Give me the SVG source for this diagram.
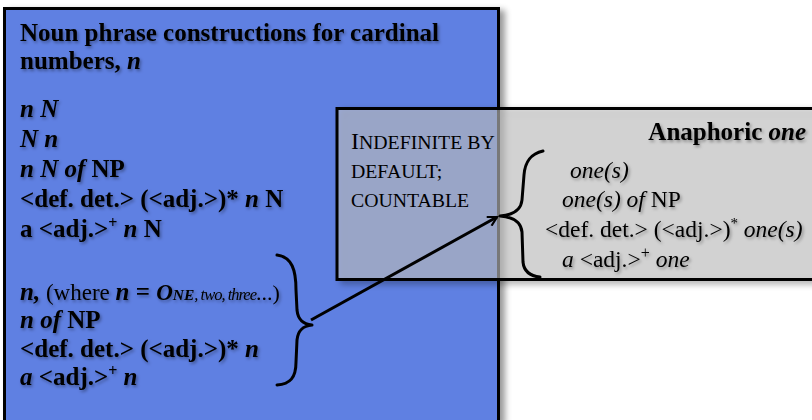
<svg xmlns="http://www.w3.org/2000/svg" width="812" height="420" viewBox="0 0 812 420">
<defs>
<filter id="bs" x="-5%" y="-5%" width="115%" height="115%"><feDropShadow dx="5" dy="3" stdDeviation="3" flood-color="#000" flood-opacity="0.4"/></filter>
<filter id="ts" x="-5%" y="-5%" width="110%" height="120%"><feDropShadow dx="1.5" dy="2" stdDeviation="1.5" flood-color="#000" flood-opacity="0.35"/></filter>
<marker id="ah" viewBox="0 0 12 12" refX="10" refY="6" markerWidth="12" markerHeight="12" markerUnits="userSpaceOnUse" orient="auto"><path d="M1,1 L10,6 L1,11" fill="none" stroke="#000" stroke-width="2.2"/></marker>
<style>
text{font-family:"Liberation Serif","Times New Roman",serif;fill:#000}
.l{font-size:25px;font-weight:bold}
.bi{font-style:italic;font-weight:bold}
.r{font-size:23.5px}
.i{font-style:italic}
.n{font-weight:normal}
.sc{font-size:19.8px}
.brace{fill:none;stroke:#000;stroke-width:3;stroke-linecap:round;stroke-linejoin:round}
</style>
</defs>
<g id="cardinal-box">
<rect x="4.5" y="8.5" width="494" height="413" fill="#5e80e2" stroke="#000" stroke-width="3" filter="url(#bs)"/>
<g filter="url(#ts)">
<text class="l" x="20" y="41">Noun phrase constructions for cardinal</text>
<text class="l" x="20" y="69">numbers, <tspan class="bi">n</tspan></text>
<text class="l" x="20" y="117"><tspan class="bi">n N</tspan></text>
<text class="l" x="20" y="147"><tspan class="bi">N n</tspan></text>
<text class="l" x="20" y="177"><tspan class="bi">n N of</tspan> NP</text>
<text class="l" x="20" y="207">&lt;def. det.&gt; (&lt;adj.&gt;)* <tspan class="bi">n</tspan> N</text>
<text class="l" x="20" y="237">a &lt;adj.&gt;<tspan font-size="16" dy="-9">+</tspan><tspan dy="9"> </tspan><tspan class="bi">n</tspan> N</text>
<text class="l" x="20" y="300"><tspan class="bi">n,</tspan><tspan class="n" font-size="23"> (where </tspan><tspan class="bi">n</tspan> = <tspan class="bi" font-size="23">O</tspan><tspan class="bi" font-size="15.5">NE</tspan><tspan class="i n" font-size="16.5" letter-spacing="-1">, two, three</tspan><tspan class="n" font-size="22">...)</tspan></text>
<text class="l" x="20" y="328"><tspan class="bi">n of</tspan> NP</text>
<text class="l" x="20" y="357">&lt;def. det.&gt; (&lt;adj.&gt;)* <tspan class="bi">n</tspan></text>
<text class="l" x="20" y="385"><tspan class="bi">a</tspan> &lt;adj.&gt;<tspan font-size="16" dy="-9">+</tspan><tspan dy="9"> </tspan><tspan class="bi">n</tspan></text>
</g>
<path class="brace" d="M277,255 C292,257 296,270 296,290 L297,310 C298,320 303,324 312,325 C303,326 298,330 297,340 L296,362 C296,378 290,384 277,385"/>
</g>
<g id="anaphoric-box">
<rect x="337" y="108.5" width="500" height="171" fill="#c6c6c6" fill-opacity="0.55" stroke="#000" stroke-width="3" filter="url(#bs)"/>
<g filter="url(#ts)">
<text x="806" y="140" text-anchor="end" font-weight="bold" font-size="25">Anaphoric <tspan class="i">one</tspan></text>
</g>
<g fill="#1a1a1a">
<text x="351" y="149" font-size="24">I<tspan class="sc">NDEFINITE BY</tspan></text>
<text x="351" y="178" class="sc">DEFAULT;</text>
<text x="351" y="207" class="sc">COUNTABLE</text>
</g>
<g filter="url(#ts)">
<text class="r" x="570" y="178"><tspan class="i">one(s)</tspan></text>
<text class="r" x="562" y="207"><tspan class="i">one(s) of</tspan> NP</text>
<text class="r" x="545" y="237">&lt;def. det.&gt; (&lt;adj.&gt;)<tspan font-size="15" dy="-9">*</tspan><tspan dy="9" class="i"> one(s)</tspan></text>
<text class="r" x="562" y="267"><tspan class="i">a</tspan> &lt;adj.&gt;<tspan font-size="16" dy="-9">+</tspan><tspan dy="9" class="i"> one</tspan></text>
</g>
<path class="brace" d="M543,151 C530,154 525,162 524,175 L522,200 C521,210 514,215 500,216 C514,217 521,222 522,232 L523,262 C524,272 530,276 540,277"/>
</g>
<g id="connectors">
<line x1="311" y1="320" x2="497" y2="217" stroke="#000" stroke-width="3" marker-end="url(#ah)"/>
</g>
</svg>
